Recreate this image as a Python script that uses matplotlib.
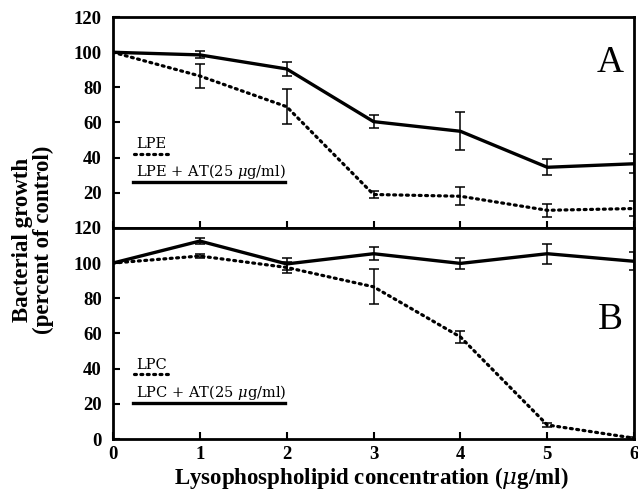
import matplotlib
matplotlib.use("Agg")
import matplotlib.pyplot as plt
import numpy as np

conc = [0, 1, 2, 3, 4, 5, 6]

# panel A
lpe = [100, 86.5, 69, 19, 18, 10, 11]
lpe_err = [0, 7, 10, 2, 5, 3.8, 4.5]
lpe_at = [100, 98.5, 90.5, 60.5, 55, 34.5, 36.5]
lpe_at_err = [0, 2, 4, 3.8, 10.8, 4.5, 5.5]

# panel B
lpc = [100, 104, 97.5, 86.5, 58, 8, 0.5]
lpc_err = [0, 1, 3, 10, 3.5, 1, 0.5]
lpc_at = [100, 112.5, 99.5, 105.3, 99.8, 105.3, 101]
lpc_at_err = [0, 1.5, 3.5, 3.8, 3, 5.7, 5]

plt.rcParams['font.family'] = ['Liberation Serif', 'DejaVu Serif']
plt.rcParams['mathtext.fontset'] = 'dejavuserif'

fig = plt.figure(figsize=(6.38, 4.9), dpi=100)
axA = fig.add_axes([0.177, 0.535, 0.817, 0.430])
axB = fig.add_axes([0.177, 0.104, 0.817, 0.431])

dot = (0, (0.6, 1.4))


def panel(ax, y1, e1, y2, e2, name, letter, ly):
    ax.errorbar(conc, y1, yerr=e1, color='black', lw=2.3, ls=dot,
                elinewidth=1.1, capsize=3.5, capthick=1.1, dash_capstyle='round')
    ax.errorbar(conc, y2, yerr=e2, color='black', lw=2.4, ls='-',
                elinewidth=1.1, capsize=3.5, capthick=1.1)
    ax.set_xlim(0, 6)
    ax.set_ylim(0, 120)
    ax.set_yticks([0, 20, 40, 60, 80, 100, 120])
    ax.set_xticks(conc)
    ax.tick_params(direction='in', length=5, width=1.5, labelsize=13.5)
    ax.tick_params(axis='y', pad=8)
    ax.tick_params(axis='x', pad=5)
    for lab in ax.get_xticklabels() + ax.get_yticklabels():
        lab.set_fontweight('bold')
    for s in ax.spines.values():
        s.set_linewidth(2.0)
    ax.text(0.954, letter, 'A' if name == 'LPE' else 'B', transform=ax.transAxes,
            fontsize=27, ha='center', va='center')
    # legend drawn by hand
    ax.text(0.044, ly[0], name, transform=ax.transAxes, fontsize=10.5,
            va='baseline', family='DejaVu Serif')
    ax.plot([0.04, 0.109], [ly[1], ly[1]], transform=ax.transAxes,
            color='black', lw=2.3, ls=dot, dash_capstyle='round')
    ax.text(0.044, ly[2], name + r' + AT(25 $\mu$g/ml)',
            transform=ax.transAxes, fontsize=10.5, va='baseline',
            family='DejaVu Serif')
    ax.plot([0.038, 0.33], [ly[3], ly[3]], transform=ax.transAxes,
            color='black', lw=2.4)


panel(axA, lpe, lpe_err, lpe_at, lpe_at_err, 'LPE', 0.784,
      [0.379, 0.351, 0.247, 0.218])
panel(axB, lpc, lpc_err, lpc_at, lpc_at_err, 'LPC', 0.564,
      [0.332, 0.308, 0.199, 0.171])

axA.tick_params(labelbottom=False)
axA.set_yticks([20, 40, 60, 80, 100, 120])
for lab in axA.get_yticklabels():
    lab.set_fontweight('bold')

fig.text(0.582, 0.013, r'Lysophospholipid concentration ($\mu$g/ml)',
         fontsize=16.5, fontweight='bold', ha='center', va='baseline')
fig.text(0.052, 0.51, 'Bacterial growth\n(percent of control)', rotation=90,
         fontsize=16.5, fontweight='bold', ha='center', va='center',
         linespacing=1.0)

fig.savefig('out.png', dpi=100)
